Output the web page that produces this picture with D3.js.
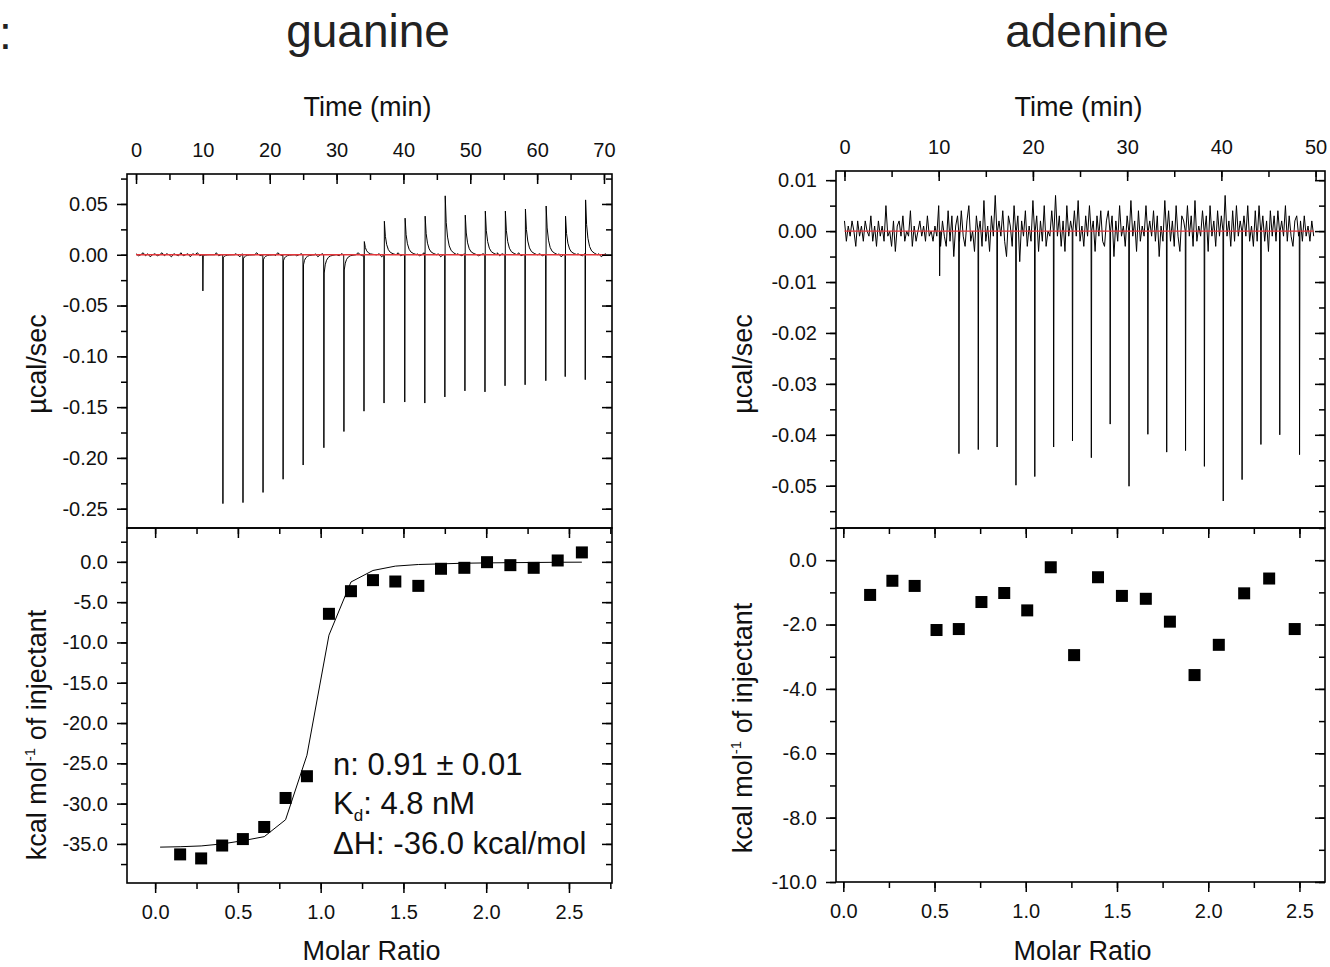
<!DOCTYPE html>
<html>
<head>
<meta charset="utf-8">
<script src="https://cdn.jsdelivr.net/npm/d3@7"></script>
<style>
  body { margin: 0; background: #fff; }
  svg { display: block; }
</style>
</head>
<body>
<svg id="chart" width="1330" height="967"></svg>
<script>
// ---------- data ----------

// guanine: injection times (min), spike minimum and the value right after it (µcal/sec)
const G_INJ_T = [10.0, 13.0, 16.0, 19.0, 22.0, 25.0, 28.1, 31.1, 34.1, 37.1, 40.2, 43.2, 46.2, 49.2, 52.2, 55.2, 58.2, 61.3, 64.2, 67.2];
const G_INJ_MIN = [-0.0356, -0.245, -0.244, -0.234, -0.221, -0.207, -0.190, -0.174, -0.154, -0.146, -0.145, -0.146, -0.140, -0.134, -0.135, -0.129, -0.128, -0.124, -0.120, -0.123];
const G_INJ_PEAK = [-0.001, -0.003, -0.004, -0.005, -0.006, -0.010, -0.018, -0.015, 0.013, 0.033, 0.036, 0.038, 0.058, 0.039, 0.043, 0.043, 0.045, 0.048, 0.038, 0.054];
// guanine baseline wobble, in 0.001 µcal/sec, evenly spaced over the run
const G_NOISE = [1,-1,0,2,-1,1,-2,0,1,-1, 0,2,-1,1,0,-2,1,0,-1,2, -1,0,1,-2,1,0,2,-1,0,-1, 1,0,-2,1,2,-1,0,1,-1,0,
  2,-1,1,0,-2,1,0,-1,1,0, -1,2,0,-1,1,-2,0,1,0,-1, 2,0,-1,1,0,-2,1,1,-1,0, 1,-1,2,0,-1,0,1,-2,0,1,
  -1,1,0,2,-1,0,-1,1,0,-2, 1,0,1,-1,2,0,-1,1,-1,0, 2,-1,0,1,-2,1,0,-1,1,0, -1,2,-1,0,1,0,-2,1,0,1,
  -1,0,2,-1,1,0,-1,0,1,-2, 0,1,-1,2,0,-1,1,0,-1,1, 0,-2,1,0,2,-1,0,1,-1,0, 1,-1,0,2,-1,1,0,-2,1,0,
  -1,1,2,-1,0,1,-1,0,-2,1, 0,1,-1,0,2,-1,1,0,-1,1, -2,0,1,-1,2,0,-1,1,0,-1, 1,0,-1,2,-1,0,1,-2,0,1];

// adenine: injection times (min) and spike minimum (µcal/sec)
const A_INJ_T = [10.1, 12.15, 14.2, 16.2, 18.2, 20.2, 22.2, 24.2, 26.2, 28.2, 30.2, 32.2, 34.2, 36.2, 38.2, 40.2, 42.2, 44.2, 46.2, 48.3];
const A_INJ_MIN = [-0.0088, -0.0437, -0.0429, -0.0424, -0.0499, -0.0482, -0.0424, -0.0412, -0.0445, -0.0379, -0.0501, -0.0399, -0.0434, -0.0431, -0.0462, -0.0530, -0.0488, -0.0419, -0.0400, -0.0439];
// adenine baseline noise, in 0.001 µcal/sec
const A_NOISE = [2,-2,1,-1,2,0,-3,2,-1,1, -2,2,0,-1,3,-2,1,-3,2,-1, 1,-2,5,-1,0,-3,2,-4,1,2, -1,3,-2,0,-1,4,-3,1,-2,0,
  2,-1,1,-2,3,-1,0,-2,1,-1, 5,-3,2,-1,-3,4,-2,3,-5,1, 3,-2,4,-1,-3,2,5,-2,0,-4, 3,-1,2,-3,6,-2,1,-4,3,-1,
  7,-3,2,-1,4,-2,-5,3,1,-3, 5,-2,3,-6,2,-1,4,-3,1,-2, 6,-1,3,-4,2,-2,5,-3,0,-1, 4,-2,7,-1,3,-3,2,-4,5,-1,
  2,-3,4,-1,6,-2,1,-3,3,-1, 5,-2,2,-4,3,-1,4,-2,-3,2, 4,-1,3,-5,2,-2,5,-1,1,-3, 3,-2,6,-1,2,-4,4,-2,1,-1,
  5,-3,2,-1,4,-2,3,-5,1,-2, 6,-1,4,-2,2,-3,5,-1,-4,3, 2,-2,5,-1,3,-3,6,-2,1,-1, 4,-2,3,-4,5,-1,2,-3,4,-1,
  3,-2,7,-1,2,-3,4,-2,5,-1, 2,-4,3,-1,5,-2,1,-3,4,-2, 5,-1,3,-2,2,-4,4,-1,3,-2, 4,-3,2,-1,5,-2,3,-1,-3,2,
  3,-1,2,-2,3,-1,1,-2,2,-1];

// integrated heats (kcal/mol of injectant) vs molar ratio
const G_MR = [0.151, 0.278, 0.405, 0.530, 0.659, 0.788, 0.917, 1.050, 1.183, 1.316, 1.451, 1.590, 1.727, 1.868, 2.005, 2.146, 2.287, 2.432, 2.578];
const G_DH = [-36.3, -36.8, -35.2, -34.4, -32.9, -29.3, -26.6, -6.45, -3.64, -2.27, -2.44, -2.98, -0.86, -0.74, -0.04, -0.41, -0.74, 0.17, 1.17];
const FIT_MR = [0.03, 0.151, 0.278, 0.405, 0.530, 0.659, 0.788, 0.917, 1.050, 1.183, 1.316, 1.451, 1.590, 1.727, 1.868, 2.005, 2.146, 2.287, 2.432, 2.578];
const FIT_DH = [-35.4, -35.35, -35.25, -35.0, -34.6, -34.1, -32.0, -24.0, -9.1, -2.5, -1.07, -0.53, -0.33, -0.25, -0.17, -0.13, -0.10, -0.08, -0.05, -0.04];
const A_MR = [0.147, 0.269, 0.391, 0.511, 0.633, 0.757, 0.882, 1.008, 1.137, 1.265, 1.396, 1.527, 1.658, 1.790, 1.925, 2.058, 2.197, 2.334, 2.474];
const A_DH = [-1.08, -0.64, -0.80, -2.17, -2.14, -1.30, -1.02, -1.56, -0.22, -2.95, -0.53, -1.11, -1.20, -1.91, -3.57, -2.63, -1.03, -0.57, -2.14];

// tick labels
const G_TIME_TICKS = [0, 10, 20, 30, 40, 50, 60, 70];
const A_TIME_TICKS = [0, 10, 20, 30, 40, 50];
const G_RAW_TICKS = [0.05, 0, -0.05, -0.10, -0.15, -0.20, -0.25];
const A_RAW_TICKS = [0.01, 0, -0.01, -0.02, -0.03, -0.04, -0.05];
const G_HEAT_TICKS = [0, -5, -10, -15, -20, -25, -30, -35];
const A_HEAT_TICKS = [0, -2, -4, -6, -8, -10];
const MR_TICKS = [0, 0.5, 1.0, 1.5, 2.0, 2.5];

const FIT_NOTE = ["n: 0.91 \u00b1 0.01", "4.8 nM", "\u0394H: -36.0 kcal/mol"];

// ---------- drawing ----------
const FONT = '"Liberation Sans", Arial, Helvetica, sans-serif';
const svg = d3.select("#chart").attr("font-family", FONT);

// peak shape after each injection: time offsets (min) and fraction of the peak value
const SHAPE_T = [0.05, 0.2, 0.4, 0.65, 0.95, 1.35, 1.8];
const SHAPE_F = [1, 0.55, 0.3, 0.15, 0.07, 0.03, 0];

// merge baseline noise samples with the injection spikes into one trace
function buildTrace(tStart, tEnd, noise, injT, injMin, injPeak, shapeT, shapeF) {
    const step = (tEnd - tStart) / (noise.length - 1);
    const win = shapeT[shapeT.length - 1];
    let pts = noise.map((n, i) => ({t: tStart + i * step, v: n * 0.001}))
        .filter(p => !injT.some(t => p.t > t - 0.03 && p.t < t + win));
    injT.forEach((t, i) => {
        pts.push({t: t - 0.03, v: 0});
        pts.push({t: t, v: injMin[i]});
        shapeT.forEach((dt, k) => pts.push({t: t + dt, v: (injPeak ? injPeak[i] : 0) * shapeF[k]}));
    });
    return pts.sort((a, b) => a.t - b.t);
}

// tick marks only (no labels, no domain line)
function tickAxis(gen, scale, values, size, tx, ty) {
    const dom = scale.domain();
    const vals = values.filter(v => v >= Math.min(...dom) - 1e-9 && v <= Math.max(...dom) + 1e-9);
    const g = svg.append("g").attr("transform", `translate(${tx},${ty})`)
        .call(gen(scale).tickValues(vals).tickSize(size).tickFormat(""));
    g.select(".domain").remove();
    g.selectAll("line").attr("stroke", "#000").attr("stroke-width", 1.5);
}

// tick labels only
function labelAxis(gen, scale, values, fmt, pad, tx, ty) {
    const g = svg.append("g").attr("transform", `translate(${tx},${ty})`)
        .call(gen(scale).tickValues(values).tickSize(0).tickPadding(pad).tickFormat(fmt));
    g.select(".domain").remove();
    g.attr("font-family", FONT).attr("font-size", 20);
    g.selectAll("text").attr("fill", "#111");
}

function makeItc(p) {
    const xT = d3.scaleLinear().domain(p.timeDomain).range([p.x0, p.x1]);
    const yR = d3.scaleLinear().domain(p.rawDomain).range([p.mid, p.top]);
    const xM = d3.scaleLinear().domain(p.mrDomain).range([p.x0, p.x1]);
    const yH = d3.scaleLinear().domain(p.heatDomain).range([p.bot, p.mid]);
    const cx = (p.x0 + p.x1) / 2;

    // titles
    svg.append("text").attr("x", p.titleX).attr("y", 47).attr("text-anchor", "middle")
        .attr("font-size", 46).attr("fill", "#222").text(p.title);
    svg.append("text").attr("x", cx - 2).attr("y", 116).attr("text-anchor", "middle")
        .attr("font-size", 27).attr("fill", "#111").text("Time (min)");
    svg.append("text").attr("x", cx + 2).attr("y", 960).attr("text-anchor", "middle")
        .attr("font-size", 27).attr("fill", "#111").text("Molar Ratio");

    // y titles
    svg.append("text").attr("transform", `translate(${p.ylabX},${p.rawLabelY}) rotate(-90)`)
        .attr("text-anchor", "middle").attr("font-size", 27).attr("fill", "#111").text("\u00b5cal/sec");
    const kl = svg.append("text").attr("transform", `translate(${p.ylabX},${p.heatLabelY}) rotate(-90)`)
        .attr("text-anchor", "middle").attr("font-size", 27).attr("fill", "#111");
    kl.append("tspan").text("kcal mol");
    kl.append("tspan").attr("font-size", 15).attr("dy", -11).text("-1");
    kl.append("tspan").attr("dy", 11).text(" of injectant");

    // raw thermogram
    svg.append("path").datum(p.trace)
        .attr("d", d3.line().x(d => xT(d.t)).y(d => yR(d.v)))
        .attr("fill", "none").attr("stroke", "#000").attr("stroke-width", 1);
    svg.append("path").datum([p.baseStart, p.baseEnd])
        .attr("d", d3.line().x(d => xT(d)).y(() => yR(0)))
        .attr("stroke", "#e3373b").attr("stroke-width", 1.3);

    // axes of the raw panel
    tickAxis(d3.axisBottom, xT, d3.range(0, p.timeDomain[1], 5), 6, 0, p.top);
    tickAxis(d3.axisBottom, xT, p.timeTicks, 10, 0, p.top);
    labelAxis(d3.axisTop, xT, p.timeTicks, d => d, 17, 0, p.top);
    tickAxis(d3.axisLeft, yR, p.rawMinor, 6, p.x0, 0);
    tickAxis(d3.axisLeft, yR, p.rawTicks, 10, p.x0, 0);
    tickAxis(d3.axisLeft, yR, p.rawMinor, 6, p.x1, 0);
    tickAxis(d3.axisLeft, yR, p.rawTicks, 10, p.x1, 0);
    labelAxis(d3.axisLeft, yR, p.rawTicks, d => d.toFixed(2), 19, p.x0, 0);

    // axes of the heat panel
    const mrMinor = d3.range(0, 2.8, 0.25);
    tickAxis(d3.axisBottom, xM, mrMinor, 6, 0, p.mid);
    tickAxis(d3.axisBottom, xM, MR_TICKS, 10, 0, p.mid);
    tickAxis(d3.axisBottom, xM, mrMinor, 6, 0, p.bot);
    tickAxis(d3.axisBottom, xM, MR_TICKS, 10, 0, p.bot);
    labelAxis(d3.axisBottom, xM, MR_TICKS, d => d.toFixed(1), 22, 0, p.bot);
    tickAxis(d3.axisLeft, yH, p.heatMinor, 6, p.x0, 0);
    tickAxis(d3.axisLeft, yH, p.heatTicks, 10, p.x0, 0);
    tickAxis(d3.axisLeft, yH, p.heatMinor, 6, p.x1, 0);
    tickAxis(d3.axisLeft, yH, p.heatTicks, 10, p.x1, 0);
    labelAxis(d3.axisLeft, yH, p.heatTicks, d => d.toFixed(1), 19, p.x0, 0);

    // frames
    [[p.top, p.mid], [p.mid, p.bot]].forEach(([a, b]) => {
        svg.append("rect").attr("x", p.x0).attr("y", a).attr("width", p.x1 - p.x0).attr("height", b - a)
            .attr("fill", "none").attr("stroke", "#000").attr("stroke-width", 1.6);
    });

    // fit curve
    if (p.fitX) {
        svg.append("path").datum(d3.zip(p.fitX, p.fitY))
            .attr("d", d3.line().x(d => xM(d[0])).y(d => yH(d[1])))
            .attr("fill", "none").attr("stroke", "#000").attr("stroke-width", 1);
    }

    // integrated heats
    svg.append("g").selectAll("rect").data(d3.zip(p.mr, p.heat)).join("rect")
        .attr("x", d => xM(d[0]) - 6).attr("y", d => yH(d[1]) - 6)
        .attr("width", 12).attr("height", 12).attr("fill", "#000");

    // fit parameters
    if (p.note) {
        const g = svg.append("g").attr("font-size", 31).attr("fill", "#111");
        g.append("text").attr("x", 333).attr("y", 775).text(p.note[0]);
        const kd = g.append("text").attr("x", 333).attr("y", 814);
        kd.append("tspan").text("K");
        kd.append("tspan").attr("font-size", 17).attr("dy", 7).text("d");
        kd.append("tspan").attr("dy", -7).text(": " + p.note[1]);
        g.append("text").attr("x", 333).attr("y", 854).text(p.note[2]);
    }
}

// colon left over from the cropped panel letter
svg.append("text").attr("x", -1).attr("y", 49).attr("font-size", 46).attr("fill", "#222").text(":");

makeItc({
    title: "guanine", titleX: 368,
    x0: 127, x1: 612, top: 174, mid: 528, bot: 883,
    timeDomain: [-1.35, 71.2], timeTicks: G_TIME_TICKS,
    rawDomain: [-0.269, 0.0795], rawTicks: G_RAW_TICKS, rawMinor: d3.range(-0.275, 0.08, 0.025),
    heatDomain: [-39.85, 4.2], heatTicks: G_HEAT_TICKS, heatMinor: d3.range(-37.5, 4.5, 2.5),
    mrDomain: [-0.17, 2.76],
    trace: buildTrace(0, 70.3, G_NOISE, G_INJ_T, G_INJ_MIN, G_INJ_PEAK, SHAPE_T, SHAPE_F),
    baseStart: 0, baseEnd: 70.3,
    mr: G_MR, heat: G_DH, fitX: FIT_MR, fitY: FIT_DH, note: FIT_NOTE,
    ylabX: 46, rawLabelY: 364, heatLabelY: 735
});

makeItc({
    title: "adenine", titleX: 1087,
    x0: 836, x1: 1325, top: 171, mid: 528, bot: 882,
    timeDomain: [-0.9, 51.0], timeTicks: A_TIME_TICKS,
    rawDomain: [-0.0583, 0.0118], rawTicks: A_RAW_TICKS, rawMinor: d3.range(-0.055, 0.012, 0.005),
    heatDomain: [-10, 1.0], heatTicks: A_HEAT_TICKS, heatMinor: d3.range(-10, 1.01, 1),
    mrDomain: [-0.04, 2.64],
    trace: buildTrace(0, 49.8, A_NOISE, A_INJ_T, A_INJ_MIN, null, [0.04], [0]),
    baseStart: 0, baseEnd: 49.8,
    mr: A_MR, heat: A_DH,
    ylabX: 752, rawLabelY: 364, heatLabelY: 728
});
</script>
</body>
</html>
